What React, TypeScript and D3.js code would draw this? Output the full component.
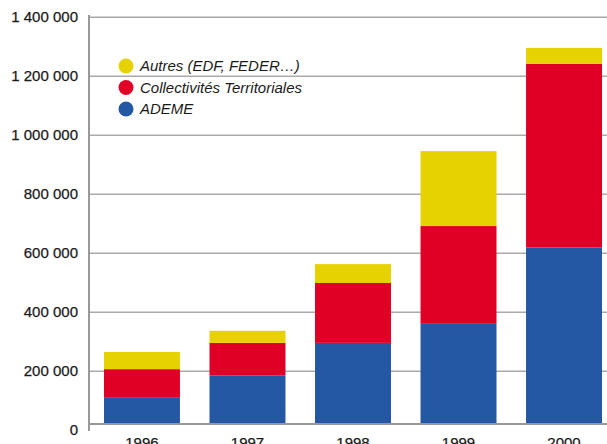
import React from "react";
import * as d3 from "d3";

const years = ["1996", "1997", "1998", "1999", "2000"];
const ademe = [112000, 186000, 296000, 363000, 619000];
const collectivites = [95000, 110000, 203000, 329000, 623000];
const autres = [58000, 41000, 64000, 254000, 54000];
const yTicks = [0, 200000, 400000, 600000, 800000, 1000000, 1200000, 1400000];

const seriesKeys = ["ademe", "collectivites", "autres"];
const seriesColors: Record<string, string> = {
	ademe: "#2457a4",
	collectivites: "#e00025",
	autres: "#e6d200",
};
const legendItems = [
	{ key: "autres", label: "Autres (EDF, FEDER…)" },
	{ key: "collectivites", label: "Collectivités Territoriales" },
	{ key: "ademe", label: "ADEME" },
];

const rows = years.map((year, i) => ({
	year,
	ademe: ademe[i],
	collectivites: collectivites[i],
	autres: autres[i],
}));

const W = 607;
const H = 444;
const left = 89;
const baseY = 423;

const x = d3
	.scaleBand()
	.domain(years)
	.range([left, 617])
	.paddingInner(0.28)
	.paddingOuter(0.142);
const y = d3.scaleLinear().domain([0, 1400000]).range([430.2, 17.2]);
const stacked = d3.stack().keys(seriesKeys)(rows as any);
const fmt = (v: number) => d3.format(",")(v).replace(/,/g, " ");

export default function App() {
	return (
		<svg
			width={W}
			height={H}
			style={{ position: "absolute", left: 0, top: 0, fontFamily: "'Liberation Sans', Arial, sans-serif" }}>
			<rect width={W} height={H} fill="#fff" />
			{yTicks.slice(1).map((t) => (
				<line key={t} x1={left} x2={W} y1={y(t)} y2={y(t)} stroke="#aaa" strokeWidth={1.5} />
			))}
			{stacked.map((layer) => (
				<g key={layer.key} fill={seriesColors[layer.key]}>
					{layer.map((d, i) => {
						const y0 = Math.min(y(d[0]), baseY);
						const y1 = y(d[1]);
						return (
							<rect key={i} x={x(years[i])} width={x.bandwidth()} y={y1} height={y0 - y1} />
						);
					})}
				</g>
			))}
			<line x1={left} x2={left} y1={15} y2={431} stroke="#999" strokeWidth={2} />
			<line x1={left - 1} x2={W} y1={baseY + 1} y2={baseY + 1} stroke="#999" strokeWidth={2} />
			{yTicks.map((t) => (
				<text
					key={t}
					x={78}
					y={y(t)}
					dy="0.35em"
					textAnchor="end"
					fontSize={15}
					stroke="#1a1a1a"
					strokeWidth={0.25}
					fill="#1a1a1a">
					{fmt(t)}
				</text>
			))}
			{years.map((yr) => (
				<text
					key={yr}
					x={(x(yr) as number) + x.bandwidth() / 2}
					y={448}
					textAnchor="middle"
					fontSize={15}
					stroke="#1a1a1a"
					strokeWidth={0.25}
					fill="#1a1a1a">
					{yr}
				</text>
			))}
			{legendItems.map((item, i) => (
				<g key={item.key} transform={`translate(126, ${66 + i * 21.5})`}>
					<circle r={7.5} fill={seriesColors[item.key]} />
					<text
						x={14}
						dy="0.35em"
						fontSize={15}
						fontStyle="italic"
						fill="#1a1a1a">
						{item.label}
					</text>
				</g>
			))}
		</svg>
	);
}
